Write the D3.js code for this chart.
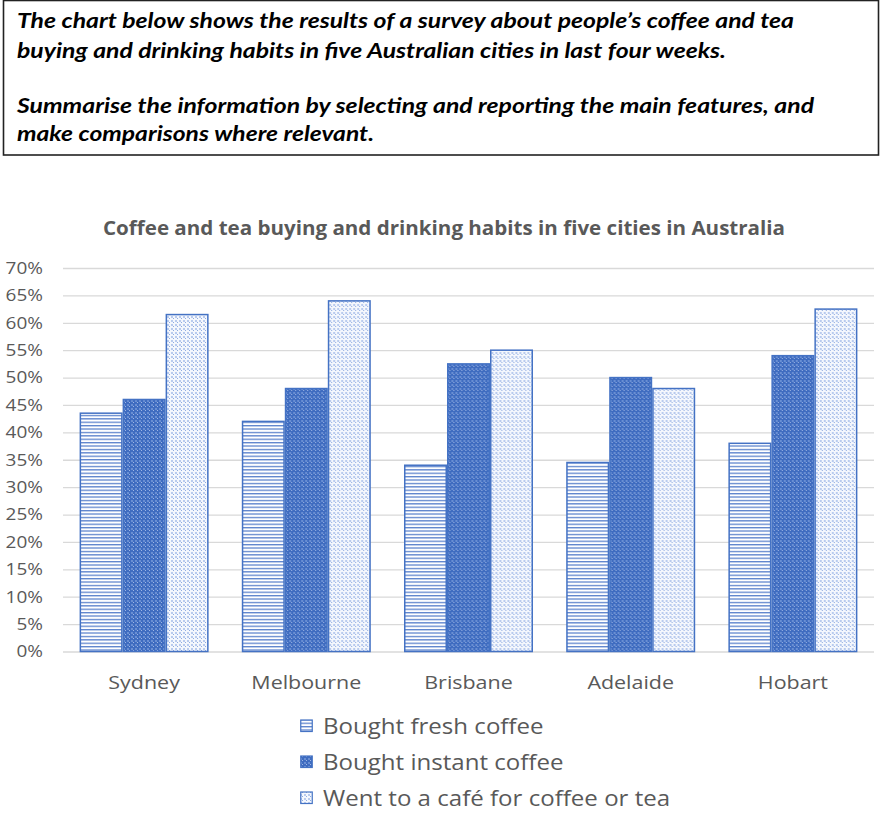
<!DOCTYPE html>
<html>
<head>
<meta charset="utf-8">
<script src="https://cdn.jsdelivr.net/npm/d3@7"></script>
<style>
  html, body { margin: 0; padding: 0; background: #fff; }
  svg { display: block; }
</style>
</head>
<body>
<svg id="chart" width="889" height="822"></svg>
<script>
const cities = ["Sydney", "Melbourne", "Brisbane", "Adelaide", "Hobart"];
const seriesNames = ["Bought fresh coffee", "Bought instant coffee", "Went to a café for coffee or tea"];
const freshCoffee = [43.5, 42, 34, 34.5, 38];
const instantCoffee = [46, 48, 52.5, 50, 54];
const cafe = [61.5, 64, 55, 48, 62.5];
const yTicks = [0, 5, 10, 15, 20, 25, 30, 35, 40, 45, 50, 55, 60, 65, 70];
const chartTitle = "Coffee and tea buying and drinking habits in five cities in Australia";
const promptLines = [
  "The chart below shows the results of a survey about people\u2019s coffee and tea",
  "buying and drinking habits in five Australian cities in last four weeks.",
  "Summarise the information by selecting and reporting the main features, and",
  "make comparisons where relevant."
];

const seriesValues = [freshCoffee, instantCoffee, cafe];
const blue = "#4472C4";
const grey = "#595959";
const font = "'Open Sans', Lato, sans-serif";
const promptFont = "Lato, 'Open Sans', sans-serif";

const svg = d3.select("#chart");
const defs = svg.append("defs");

// Patterns
const pFresh = defs.append("pattern").attr("id", "pFresh")
  .attr("patternUnits", "userSpaceOnUse").attr("width", 4).attr("height", 3.4);
pFresh.append("rect").attr("width", 4).attr("height", 3.4).attr("fill", "#fff");
pFresh.append("rect").attr("y", 0).attr("width", 4).attr("height", 1.3).attr("fill", "#5b82cc");

const pInst = defs.append("pattern").attr("id", "pInst")
  .attr("patternUnits", "userSpaceOnUse").attr("width", 4).attr("height", 4);
pInst.append("rect").attr("width", 4).attr("height", 4).attr("fill", "#3f6cc0");
pInst.append("rect").attr("x", 0).attr("y", 0).attr("width", 2).attr("height", 2).attr("fill", "#6a8fd3");
pInst.append("rect").attr("x", 2).attr("y", 2).attr("width", 1).attr("height", 1).attr("fill", "#9fb6e4");

const pCafe = defs.append("pattern").attr("id", "pCafe")
  .attr("patternUnits", "userSpaceOnUse").attr("width", 4).attr("height", 4);
pCafe.append("rect").attr("width", 4).attr("height", 4).attr("fill", "#f4f7fd");
pCafe.append("rect").attr("x", 0).attr("y", 0).attr("width", 2).attr("height", 2).attr("fill", "#b9cbee");
pCafe.append("rect").attr("x", 2).attr("y", 2).attr("width", 1).attr("height", 1).attr("fill", "#8eaae0");

const fills = ["url(#pFresh)", "url(#pInst)", "url(#pCafe)"];

// Prompt box
svg.append("rect").attr("x", 3.5).attr("y", 0.5).attr("width", 875).attr("height", 154.5)
  .attr("fill", "#fff").attr("stroke", "#222").attr("stroke-width", 1.6);
const promptY = [28, 58, 113, 141];
const promptW = [777, 709, 797, 357];
svg.selectAll("text.prompt").data(promptLines).join("text")
  .attr("class", "prompt")
  .attr("x", 17).attr("y", (d, i) => promptY[i])
  .attr("textLength", (d, i) => promptW[i])
  .attr("lengthAdjust", "spacingAndGlyphs")
  .attr("font-family", promptFont).attr("font-size", 21)
  .attr("font-weight", "bold").attr("font-style", "italic")
  .attr("fill", "#000").text(d => d);

// Chart
const margin = { left: 63, right: 874, top: 268, bottom: 651.5 };
const x0 = d3.scaleBand().domain(cities).range([margin.left, margin.right]).padding(0);
const x1 = d3.scaleBand().domain([0, 1, 2]).range([0, x0.bandwidth()])
  .paddingInner(0).paddingOuter(0.386);
const y = d3.scaleLinear().domain([0, 70]).range([margin.bottom, margin.top]);

// Title
svg.append("text").attr("x", 444).attr("y", 235)
  .attr("text-anchor", "middle")
  .attr("textLength", 682).attr("lengthAdjust", "spacingAndGlyphs")
  .attr("font-family", font).attr("font-size", 19.5).attr("font-weight", "bold")
  .attr("fill", grey).text(chartTitle);

// Gridlines + y labels
const sx = 1.15;
const yAxis = d3.axisLeft(y).tickValues(yTicks).tickFormat(d => d + "%")
  .tickSize(-(margin.right - margin.left)).tickPadding(17.4);
const gy = svg.append("g").attr("transform", `translate(${margin.left},0)`).call(yAxis);
gy.select(".domain").remove();
gy.selectAll(".tick line").attr("stroke", "#d9d9d9").attr("stroke-width", 1.3);
gy.selectAll(".tick text").attr("font-family", font).attr("font-size", 16.5)
  .attr("fill", grey).attr("transform", `scale(${sx},1)`);

// Bars
const groups = svg.append("g").selectAll("g").data(cities).join("g")
  .attr("transform", d => `translate(${x0(d)},0)`);
groups.selectAll("rect").data((c, ci) => seriesValues.map((vals, si) => ({ si, v: vals[ci] })))
  .join("rect")
  .attr("x", d => x1(d.si) + 0.75)
  .attr("width", x1.bandwidth() - 1.5)
  .attr("y", d => y(d.v))
  .attr("height", d => y(0) - y(d.v))
  .attr("fill", d => fills[d.si])
  .attr("stroke", blue).attr("stroke-width", 1.5);

// X axis labels
const xAxis = d3.axisBottom(x0).tickSize(0).tickPadding(24);
const gx = svg.append("g").attr("transform", `translate(0,${margin.bottom})`).call(xAxis);
gx.select(".domain").remove();
gx.selectAll(".tick text").attr("font-family", font).attr("font-size", 18.5).attr("fill", grey)
  .attr("transform", `scale(1.16,1)`);

// Legend
const legendY = [726, 762, 798];
const ls = 1.12;
const lg = svg.append("g").selectAll("g").data(seriesNames).join("g")
  .attr("transform", (d, i) => `translate(300,${legendY[i]})`);
lg.append("rect").attr("x", 0.75).attr("y", -6).attr("width", 11.5).attr("height", 11.5)
  .attr("fill", (d, i) => fills[i]).attr("stroke", blue).attr("stroke-width", 1.2);
lg.append("text").attr("x", 23 / ls).attr("y", 0).attr("dy", "0.35em")
  .attr("transform", `scale(${ls},1)`)
  .attr("font-family", font).attr("font-size", 21.5).attr("fill", grey).text(d => d);
</script>
</body>
</html>
